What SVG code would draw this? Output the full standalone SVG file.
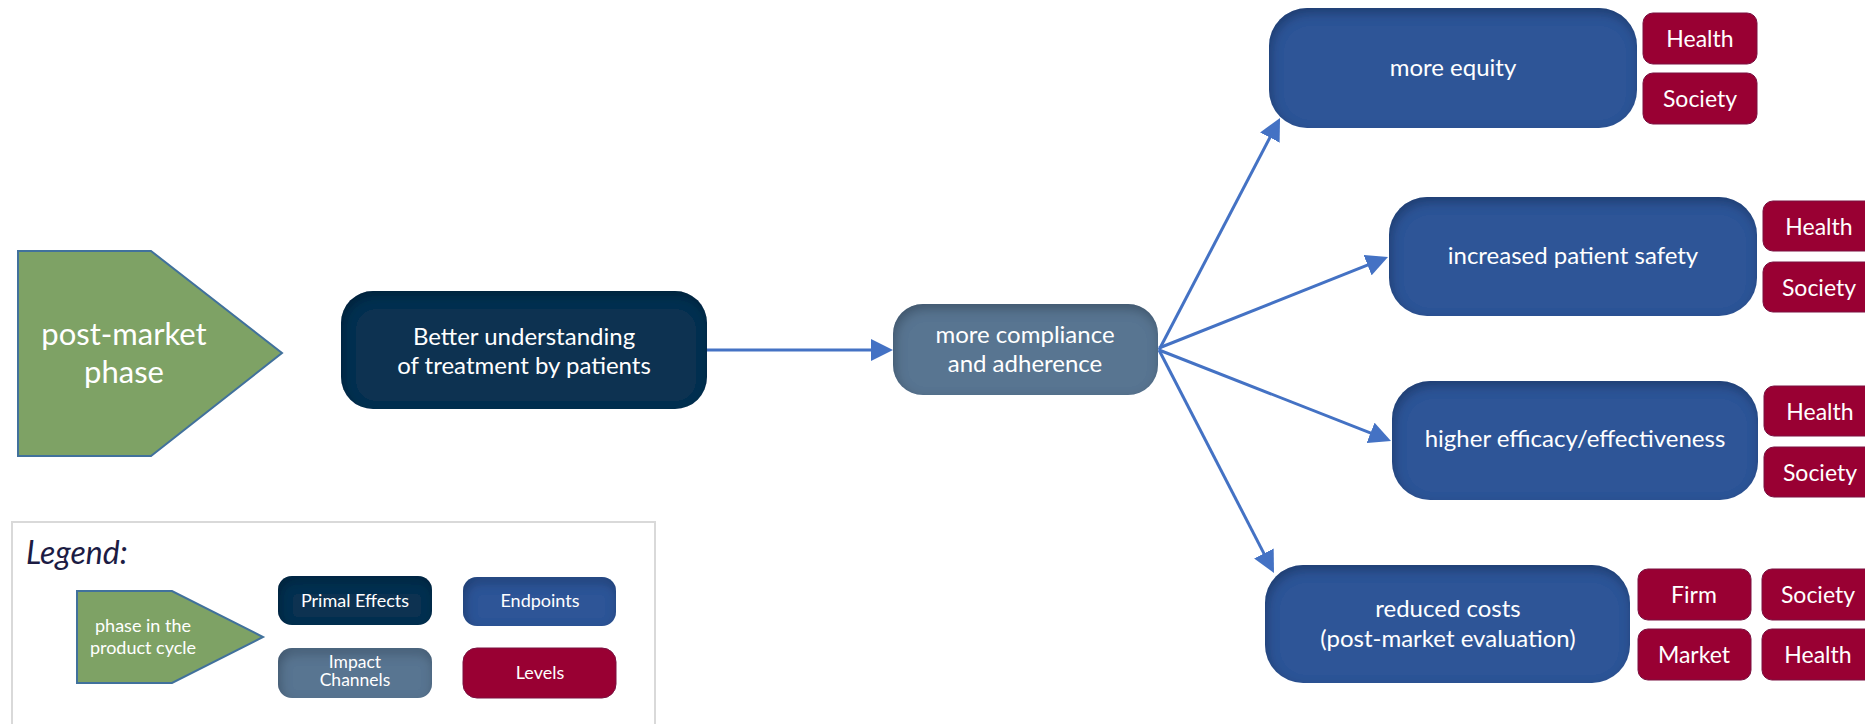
<svg xmlns="http://www.w3.org/2000/svg" width="1865" height="724" viewBox="0 0 1865 724">
<style>
  .t { font-family: Lato, "Liberation Sans", sans-serif; fill: #ffffff; text-anchor: middle; }
  .m { font-size: 24px; }
  .lv { font-size: 23px; }
  .sm { font-size: 18px; }
  .xs { font-size: 17.5px; }
  .primal { fill: #0f3151; }
  .impact { fill: #587491; }
  .endp { fill: #2f5597; }
  .level { fill: #990033; stroke: #7a1040; stroke-width: 1; }
  .phase { fill: #7ea265; stroke: #41719c; stroke-width: 2; }
  .conn { stroke: #4472c4; stroke-width: 3; fill: none; marker-end: url(#arr); }
</style>
<defs>
  <marker id="arr" markerUnits="userSpaceOnUse" markerWidth="22" markerHeight="22" refX="12" refY="11" orient="auto">
    <path d="M0,0 L22,11 L0,22 z" fill="#4472c4"/>
  </marker>
  <filter id="inner" x="-10%" y="-15%" width="120%" height="130%">
    <feComponentTransfer in="SourceAlpha" result="inv"><feFuncA type="table" tableValues="1 0"/></feComponentTransfer>
    <feOffset in="inv" dx="2" dy="5" result="off"/>
    <feGaussianBlur in="off" stdDeviation="6" result="blur"/>
    <feFlood flood-color="#000000" flood-opacity="0.5" result="fl"/>
    <feComposite in="fl" in2="blur" operator="in" result="sh"/>
    <feComposite in="sh" in2="SourceAlpha" operator="in" result="shadow"/>
    <feMerge><feMergeNode in="SourceGraphic"/><feMergeNode in="shadow"/></feMerge>
  </filter>
</defs>
<rect x="0" y="0" width="1865" height="724" fill="#ffffff"/>

<g id="connectors">
  <line class="conn" x1="707" y1="350" x2="883" y2="350"/>
  <line class="conn" x1="1159" y1="350" x2="1275.4" y2="126.9"/>
  <line class="conn" x1="1159" y1="348" x2="1378.7" y2="260.7"/>
  <line class="conn" x1="1159" y1="350" x2="1381.7" y2="437.3"/>
  <line class="conn" x1="1159" y1="350" x2="1269.4" y2="564.1"/>
</g>

<g id="post-market-phase">
  <polygon class="phase" points="18,251 151,251 282,353 151,456 18,456"/>
  <text class="t" x="124" y="345" font-size="31">post-market</text>
  <text class="t" x="124" y="383" font-size="31">phase</text>
</g>

<g id="better-understanding">
  <rect class="primal" x="341" y="291" width="366" height="118" rx="32" filter="url(#inner)"/>
  <text class="t m" x="524" y="345">Better understanding</text>
  <text class="t m" x="524" y="374">of treatment by patients</text>
</g>

<g id="compliance">
  <rect class="impact" x="893" y="304" width="265" height="91" rx="30" filter="url(#inner)"/>
  <text class="t m" x="1025" y="343">more compliance</text>
  <text class="t m" x="1025" y="372">and adherence</text>
</g>

<g id="more-equity">
  <rect class="endp" x="1269" y="8" width="368" height="120" rx="38" filter="url(#inner)"/>
  <text class="t m" x="1453" y="76">more equity</text>
</g>
<g id="equity-levels">
  <rect class="level" x="1643" y="13" width="114" height="51" rx="10"/>
  <text class="t lv" x="1700" y="47">Health</text>
  <rect class="level" x="1643" y="73" width="114" height="51" rx="10"/>
  <text class="t lv" x="1700" y="107">Society</text>
</g>

<g id="patient-safety">
  <rect class="endp" x="1389" y="197" width="368" height="119" rx="38" filter="url(#inner)"/>
  <text class="t m" x="1573" y="264">increased patient safety</text>
</g>
<g id="safety-levels">
  <rect class="level" x="1763" y="201" width="114" height="50" rx="10"/>
  <text class="t lv" x="1819" y="235">Health</text>
  <rect class="level" x="1763" y="262" width="114" height="50" rx="10"/>
  <text class="t lv" x="1819" y="296">Society</text>
</g>

<g id="efficacy">
  <rect class="endp" x="1392" y="381" width="366" height="119" rx="38" filter="url(#inner)"/>
  <text class="t m" x="1575" y="447">higher efficacy/effectiveness</text>
</g>
<g id="efficacy-levels">
  <rect class="level" x="1764" y="386" width="114" height="50" rx="10"/>
  <text class="t lv" x="1820" y="420">Health</text>
  <rect class="level" x="1764" y="447" width="114" height="50" rx="10"/>
  <text class="t lv" x="1820" y="481">Society</text>
</g>

<g id="reduced-costs">
  <rect class="endp" x="1265" y="565" width="365" height="118" rx="38" filter="url(#inner)"/>
  <text class="t m" x="1448" y="617">reduced costs</text>
  <text class="t m" x="1448" y="647">(post-market evaluation)</text>
</g>
<g id="costs-levels">
  <rect class="level" x="1638" y="569" width="113" height="51" rx="10"/>
  <text class="t lv" x="1694" y="603">Firm</text>
  <rect class="level" x="1638" y="629" width="113" height="51" rx="10"/>
  <text class="t lv" x="1694" y="663">Market</text>
  <rect class="level" x="1762" y="569" width="113" height="51" rx="10"/>
  <text class="t lv" x="1818" y="603">Society</text>
  <rect class="level" x="1762" y="629" width="113" height="51" rx="10"/>
  <text class="t lv" x="1818" y="663">Health</text>
</g>

<g id="legend">
  <rect x="12" y="522" width="643" height="230" fill="#ffffff" stroke="#d9d9d9" stroke-width="2"/>
  <text x="26" y="564" font-family="Lato, 'Liberation Sans', sans-serif" font-style="italic" font-size="32" fill="#1c1c44">Legend:</text>
  <g id="legend-phase">
    <polygon class="phase" points="77,591 172,591 263,637 172,683 77,683"/>
    <text class="t sm" x="143" y="632">phase in the</text>
    <text class="t sm" x="143" y="654">product cycle</text>
  </g>
  <g id="legend-primal">
    <rect class="primal" x="278" y="576" width="154" height="49" rx="14" filter="url(#inner)"/>
    <text class="t sm" x="355" y="607">Primal Effects</text>
  </g>
  <g id="legend-endpoints">
    <rect class="endp" x="463" y="577" width="153" height="49" rx="14" filter="url(#inner)"/>
    <text class="t sm" x="540" y="607">Endpoints</text>
  </g>
  <g id="legend-impact">
    <rect class="impact" x="278" y="648" width="154" height="50" rx="14" filter="url(#inner)"/>
    <text class="t xs" x="355" y="668">Impact</text>
    <text class="t xs" x="355" y="686">Channels</text>
  </g>
  <g id="legend-levels">
    <rect class="level" x="463" y="648" width="153" height="50" rx="14"/>
    <text class="t sm" x="540" y="679">Levels</text>
  </g>
</g>
</svg>
